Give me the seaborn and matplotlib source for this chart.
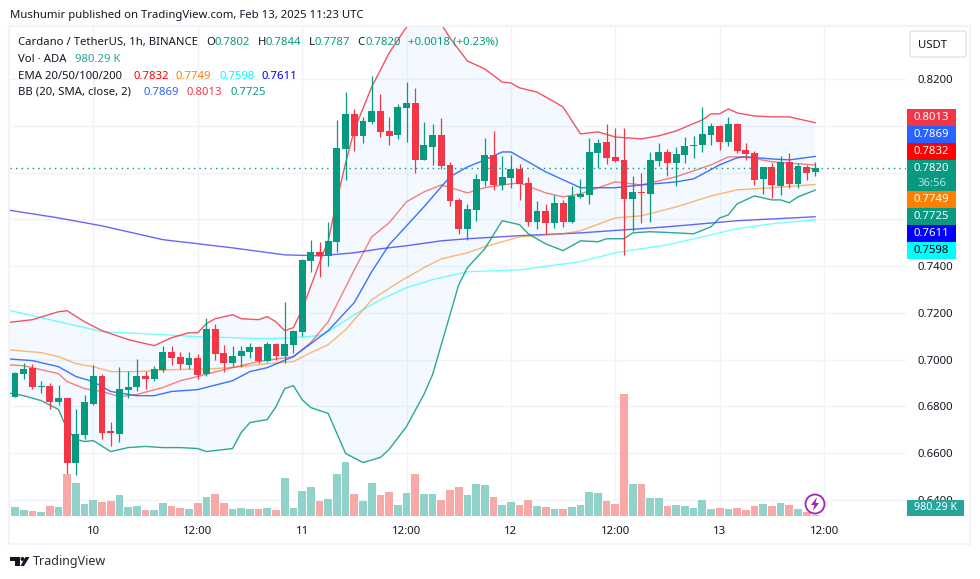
import numpy as np
import pandas as pd
import seaborn as sns
import matplotlib.pyplot as plt
from matplotlib.patches import Circle, Polygon, Rectangle, FancyBboxPatch

# hourly candles, bar 0 = Feb 10 00:00
bar_index = list(range(-9, 84))
candle_open = [.6842, .6940, .6965, .6881, .6889, .6817, .6834, .6560, .6680,
               .6812, .6932, .6693, .6684, .6872, .6881, .6932, .6919, .6957, .7034,
               .7013, .6979, .7009, .6940, .7132, .7030, .6987, .7017, .7034, .7056,
               .6996, .7068, .7017, .7064, .7120, .7423, .7461, .7444, .7504, .7901,
               .8051, .7957, .8016, .8063, .7978, .7961, .8076, .8098, .7854, .7910,
               .7961, .7833, .7683, .7559, .7641, .7764, .7875, .7747, .7777, .7816,
               .7756, .7589, .7636, .7585, .7671, .7589, .7696, .7705, .7884, .7931,
               .7867, .7854, .7688, .7717, .7709, .7850, .7888, .7841, .7875, .7914,
               .7918, .7961, .7999, .7931, .8008, .7897, .7884, .7773, .7824, .7743,
               .7846, .7752, .7824, .7802]
candle_high = [.6948, .6987, .6983, .6910, .6902, .6893, .6838, .6791, .6851,
               .6979, .6940, .6735, .6970, .6953, .7004, .6953, .6974, .7060, .7060,
               .7034, .7034, .7026, .7179, .7154, .7064, .7060, .7060, .7073, .7060,
               .7077, .7070, .7248, .7128, .7430, .7513, .7504, .7589, .8025, .8144,
               .8072, .8038, .8213, .8136, .8038, .8093, .8187, .8162, .8016, .8008,
               .8033, .7846, .7692, .7666, .7794, .7948, .7978, .7871, .7875, .7837,
               .7782, .7679, .7666, .7705, .7683, .7743, .7773, .7948, .7944, .8008,
               .7991, .7991, .7786, .7799, .7888, .7927, .7901, .7910, .7952, .7957,
               .8080, .8012, .8004, .8038, .8012, .7927, .7893, .7824, .7841, .7871,
               .7884, .7841, .7833, .7844]
candle_low = [.6842, .6919, .6876, .6859, .6787, .6808, .6509, .6505, .6659,
              .6808, .6659, .6633, .6650, .6838, .6864, .6876, .6910, .6948, .6979,
              .6962, .6962, .6919, .6932, .7000, .6948, .6974, .6970, .7009, .6987,
              .6992, .7000, .6987, .7030, .7103, .7376, .7355, .7402, .7461, .7769,
              .7893, .7927, .8008, .7952, .7918, .7944, .7931, .7799, .7854, .7833,
              .7816, .7658, .7538, .7513, .7594, .7743, .7726, .7726, .7735, .7683,
              .7572, .7559, .7538, .7564, .7568, .7585, .7692, .7666, .7820, .7837,
              .7846, .7448, .7551, .7585, .7589, .7829, .7786, .7743, .7841, .7863,
              .7888, .7918, .7897, .7914, .7884, .7854, .7747, .7709, .7692, .7705,
              .7735, .7735, .7769, .7787]
candle_close = [.6945, .6962, .6881, .6889, .6817, .6834, .6560, .6684, .6817,
                .6932, .6688, .6688, .6876, .6885, .6932, .6919, .6962, .7034, .7009,
                .6983, .7009, .6936, .7132, .7026, .6987, .7017, .7039, .7056, .6996,
                .7068, .7017, .7068, .7124, .7427, .7461, .7444, .7508, .7905, .8051,
                .7957, .8021, .8063, .7974, .7957, .8080, .8098, .7854, .7918, .7961,
                .7829, .7679, .7559, .7645, .7773, .7875, .7747, .7782, .7816, .7752,
                .7589, .7636, .7585, .7671, .7589, .7700, .7709, .7888, .7927, .7863,
                .7850, .7688, .7717, .7713, .7854, .7888, .7841, .7880, .7914, .7918,
                .7965, .7999, .7931, .8008, .7893, .7880, .7769, .7824, .7747, .7846,
                .7752, .7829, .7799, .7820]
# million ADA
volume = [6.8, 4.5, 3.8, 3, 7.5, 6.8, 31.5, 24.8, 9,
          12, 10.5, 11.3, 15.8, 6.8, 7.5, 4.5, 4.5, 9.8, 7.5,
          6, 5.3, 9.8, 14.3, 16.5, 9.8, 5.3, 6, 5.3, 5.3,
          6, 4.5, 28.5, 6, 18.8, 21.8, 11.3, 12.8, 31.5, 40.5,
          16.5, 11.3, 24.8, 15.8, 18, 8.3, 17.3, 31.5, 16.5, 16.5,
          12, 19.5, 21.8, 15.8, 24, 23.3, 14.3, 8.3, 10.5, 8.3,
          12, 7.5, 6.8, 5.3, 5.3, 6.8, 8.3, 18, 17.3, 11.3,
          9, 91.5, 24, 24, 13.5, 13.5, 7.5, 8.3, 7.5, 6,
          12, 5.3, 6, 5.3, 6, 4.5, 7.5, 9, 7.5, 9.8,
          8.3, 5.3, 3, 0.98]

# indicators, read at the bars where the line bends
bb_upper_bars = [-10, -7, -4, -3, -1, 1, 4, 7, 9, 11, 12, 13, 14, 16, 17, 19, 20, 21, 22, 23, 24, 26, 27, 28, 29, 30,
                 32, 33, 34, 36, 38, 39, 40, 41, 43, 45, 47, 48, 49, 51, 53, 54, 56, 58, 60, 63, 65, 67, 70, 71, 72,
                 73, 74, 76, 78, 80, 83]
bb_upper = [.7158, .7171, .7205, .7209, .7162, .7124, .7086, .7060, .7094, .7115, .7115, .7154, .7175, .7192, .7175,
            .7171, .7184, .7162, .7124, .7137, .7214, .7414, .7508, .7683, .7841, .7982, .8166, .8238, .8311, .8422,
            .8478, .8478, .8435, .8375, .8277, .8243, .8187, .8183, .8162, .8144, .8102, .8080, .7965, .7974, .7952,
            .7944, .7957, .7978, .8025, .8051, .8051, .8072, .8055, .8042, .8038, .8038, .8013]
bb_lower_bars = [-10, -8, -6, -4, -3, -2, -1, 0, 2, 4, 6, 8, 10, 12, 13, 16, 17, 18, 20, 21, 22, 23, 24, 25, 27, 29,
                 31, 33, 34, 36, 38, 39, 40, 41, 42, 43, 45, 47, 49, 50, 52, 54, 56, 58, 59, 61, 62, 64, 67, 69, 71,
                 72, 73, 74, 76, 78, 79, 80, 81, 83]
bb_lower = [.6859, .6846, .6825, .6787, .6701, .6659, .6650, .6654, .6607, .6624, .6629, .6624, .6624, .6620, .6607,
            .6620, .6688, .6731, .6744, .6799, .6876, .6889, .6829, .6795, .6770, .6599, .6560, .6582, .6616, .6714,
            .6851, .6936, .7064, .7192, .7320, .7393, .7474, .7594, .7577, .7538, .7495, .7466, .7508, .7504, .7517,
            .7517, .7542, .7547, .7542, .7538, .7568, .7606, .7619, .7666, .7700, .7683, .7683, .7671, .7696, .7725]
bb_basis_bars = [-10, -7, -4, -2, 0, 2, 5, 7, 9, 12, 16, 18, 20, 23, 27, 30, 32, 34, 36, 38, 41, 43, 45, 47, 48, 52,
                 56, 60, 63, 67, 69, 72, 74, 75, 78, 80, 83]
bb_basis = [.7004, .6996, .6970, .6928, .6906, .6864, .6846, .6846, .6864, .6872, .6910, .6949, .6966, .7013, .7124,
            .7244, .7376, .7491, .7572, .7653, .7782, .7824, .7854, .7888, .7888, .7803, .7735, .7735, .7747, .7760,
            .7773, .7833, .7863, .7867, .7858, .7854, .7869]
ema20_bars = [-10, -8, -4, -3, -1, 1, 3, 5, 8, 10, 12, 15, 19, 23, 25, 27, 30, 32, 34, 36, 38, 40, 43, 45, 47, 49, 52,
              54, 56, 60, 63, 67, 71, 73, 75, 78, 83]
ema20 = [.6979, .6974, .6940, .6906, .6876, .6864, .6842, .6851, .6881, .6910, .6928, .6957, .6992, .7013, .7073,
         .7162, .7384, .7525, .7585, .7675, .7717, .7747, .7713, .7735, .7747, .7756, .7713, .7696, .7709, .7760,
         .7747, .7782, .7833, .7867, .7867, .7846, .7832]
ema50_bars = [-10, -6, -4, -2, 0, 2, 5, 9, 14, 17, 20, 23, 25, 27, 29, 32, 35, 38, 40, 43, 45, 47, 49, 54, 56, 60, 63,
              67, 71, 74, 78, 83]
ema50 = [.7043, .7030, .7013, .6983, .6970, .6949, .6949, .6957, .6962, .6970, .6983, .6992, .7030, .7064, .7128,
         .7256, .7329, .7393, .7431, .7457, .7483, .7504, .7525, .7538, .7551, .7606, .7615, .7653, .7700, .7726,
         .7735, .7749]
ema100_bars = [-10, -5, 1, 8, 12, 16, 20, 23, 26, 27, 30, 33, 36, 39, 43, 49, 56, 60, 66, 70, 74, 78, 83]
ema100 = [.7214, .7171, .7120, .7107, .7098, .7094, .7090, .7094, .7103, .7120, .7192, .7256, .7308, .7342, .7376,
          .7384, .7419, .7457, .7491, .7525, .7560, .7581, .7598]
ema200_bars = [-10, -4, 1, 8, 16, 22, 26, 30, 33, 36, 40, 43, 49, 56, 66, 74, 83]
ema200 = [.7641, .7606, .7572, .7513, .7478, .7448, .7444, .7457, .7474, .7487, .7508, .7517, .7530, .7542, .7568,
          .7594, .7611]

price_ticks = [.64, .66, .68, .70, .72, .74, .76, .78, .80, .82]
price_labels = ["0.6400", "0.6600", "0.6800", "0.7000", "0.7200", "0.7400", "", "", "", "0.8200"]
time_ticks = [0, 12, 24, 36, 48, 60, 72, 84]
time_labels = ["10", "12:00", "11", "12:00", "12", "12:00", "13", "12:00"]

tag_labels = ["0.8013", "0.7869", "0.7832", "0.7749", "0.7725", "0.7611", "0.7598"]

GREEN = "#089981"
RED = "#f23645"
TEXT = "#131722"
GRID = "#f0f3fa"

W, H = 980, 579


def fx(px):
    return px / W


def fy(py):
    return 1 - py / H


def put(px, py, s, color=TEXT, size=8.15, **kw):
    kw.setdefault("va", "center")
    fig.text(fx(px), fy(py), s, color=color, fontsize=size, zorder=20, **kw)


sns.set_style("white")
plt.rcParams["font.family"] = ["Noto Sans", "DejaVu Sans"]

fig = plt.figure(figsize=(W / 100, H / 100), dpi=100)
ax = fig.add_axes([fx(10), fy(516), 896 / W, 489 / H])

df = pd.DataFrame({"bar": bar_index, "open": candle_open, "high": candle_high, "low": candle_low,
                   "close": candle_close, "volume": volume})
up = df["close"] >= df["open"]
colors = np.where(up, GREEN, RED)
vol_colors = np.where(up, "#91d3cb", "#f7a9a7")

# bollinger cloud
ax.fill(bb_upper_bars + bb_lower_bars[::-1], bb_upper + bb_lower[::-1], color="#2196f3", alpha=0.05, lw=0, zorder=1)

# lines
lines = [(ema200_bars, ema200, "#0000ff", 0.6), (ema100_bars, ema100, "#00ffff", 0.55),
         (ema50_bars, ema50, "#ff8000", 0.55), (ema20_bars, ema20, "#ff0000", 0.5),
         (bb_basis_bars, bb_basis, "#2962ff", 0.9), (bb_upper_bars, bb_upper, RED, 0.85),
         (bb_lower_bars, bb_lower, GREEN, 0.85)]
for xs, ys, col, al in lines:
    sns.lineplot(x=xs, y=ys, color=col, alpha=al, lw=1.0, estimator=None, sort=False, ax=ax, zorder=2)

# candles
ax.vlines(df["bar"], df["low"], df["high"], colors=colors, lw=0.9, zorder=3)
ax.bar(df["bar"], (df["close"] - df["open"]).abs().clip(lower=0.0003), bottom=df[["open", "close"]].min(axis=1),
       width=0.8, color=colors, lw=0, zorder=4)

# last price
ax.axhline(candle_close[-1], color=GREEN, ls=(0, (1, 3)), lw=1, zorder=5)

x_left = (10 - 93.3) / 8.7
x_right = (906 - 93.3) / 8.7
ax.set_xlim(x_left, x_right)
ax.set_ylim(.64 - 16 / 2340, .82 + 52 / 2340)
ax.set_xticks(time_ticks, time_labels)
ax.set_yticks(price_ticks, price_labels)
ax.yaxis.tick_right()
ax.tick_params(length=0, labelsize=8.2, labelcolor=TEXT)
ax.tick_params(axis="y", pad=8)
ax.tick_params(axis="x", pad=7)
ax.grid(True, color=GRID, lw=1)
ax.set_axisbelow(True)
sns.despine(ax=ax, left=True, bottom=True, right=True, top=True)

# volume sits in its own transparent axes along the pane bottom
ax_vol = fig.add_axes(ax.get_position(), zorder=3)
ax_vol.patch.set_alpha(0)
sns.barplot(data=df, x="bar", y="volume", native_scale=True, width=0.88, color="#91d3cb", saturation=1, ax=ax_vol)
for patch, col in zip(ax_vol.patches, vol_colors):
    patch.set_facecolor(col)
    patch.set_linewidth(0)
ax_vol.set_xlim(x_left, x_right)
ax_vol.set_ylim(0, 489 * 0.75)
ax_vol.axis("off")

# frame round the chart
fig.add_artist(Rectangle((fx(9), fy(544)), 961 / W, 518 / H, transform=fig.transFigure, fill=False, ec=GRID, lw=1.5))

# price tags on the scale
tag_rows = [(109, 126, RED), (126, 143, "#2962ff"), (143, 160, "#ff0000"), (191, 208, "#ff8000"), (208, 225, GREEN),
            (225, 242, "#0000ff"), (242, 259, "#00ffff")]
for (top, bottom, col), lab in zip(tag_rows, tag_labels):
    fig.add_artist(Rectangle((fx(907), fy(bottom)), 49 / W, (bottom - top) / H, transform=fig.transFigure, color=col,
                             lw=0, zorder=15))
    put(931.5, (top + bottom) / 2, lab, color="black" if col == "#00ffff" else "white", weight="bold", ha="center")
fig.add_artist(Rectangle((fx(907), fy(191)), 49 / W, 31 / H, transform=fig.transFigure, color=GREEN, lw=0, zorder=15))
put(931.5, 168.5, "0.7820", color="white", weight="bold", ha="center")
put(931.5, 183, "36:56", color="#b9e3da", ha="center")
fig.add_artist(Rectangle((fx(907), fy(516)), 57 / W, 16 / H, transform=fig.transFigure, color="#26a69a", lw=0, zorder=15))
put(935.5, 508, "980.29 K", color="white", weight="bold", ha="center", size=7.8)

# currency button
fig.add_artist(FancyBboxPatch((fx(910), fy(57)), 56 / W, 26 / H, boxstyle="round,pad=0,rounding_size=0.004",
                              transform=fig.transFigure, fc="white", ec="#e0e3eb", lw=1, zorder=15))
put(932, 45, "USDT", ha="center")

# header text
put(10, 15.5, "Mushumir published on TradingView.com, Feb 13, 2025 11:23 UTC")
put(18, 42.5, "Cardano / TetherUS, 1h, BINANCE")
for px, s, c in [(206, "O", TEXT), (214, "0.7802", GREEN), (258, "H", TEXT), (265, "0.7844", GREEN), (309, "L", TEXT),
                 (314, "0.7787", GREEN), (357, "C", TEXT), (365, "0.7820", GREEN), (408, "+0.0018 (+0.23%)", GREEN)]:
    put(px, 42.5, s, color=c)
put(18, 59.5, "Vol · ADA")
put(75, 59.5, "980.29 K", color="#26a69a")
put(18, 76.5, "EMA 20/50/100/200")
for px, s, c in [(133, "0.7832", "#ff0000"), (176, "0.7749", "#ff8000"), (219, "0.7598", "#00ffff"),
                 (262, "0.7611", "#0000ff")]:
    put(px, 76.5, s, color=c)
put(18, 92.5, "BB (20, SMA, close, 2)")
for px, s, c in [(143, "0.7869", "#2962ff"), (186, "0.8013", RED), (230, "0.7725", GREEN)]:
    put(px, 92.5, s, color=c)

# lightning badge
fig.add_artist(Circle((815, H - 504), 9.5, transform=None, fc="white", ec="#9c27b0", lw=1.3, zorder=16))
bolt = [(817, 497), (811, 505), (814.5, 505), (813, 511), (819, 503), (815.5, 503)]
fig.add_artist(Polygon([(px, H - py) for px, py in bolt], closed=True, transform=None, fc="#9c27b0", lw=0, zorder=17))

# logo
logo_t = [(10, 557), (20, 557), (20, 566), (15, 566), (15, 561), (10, 561)]
logo_v = [(25.5, 557), (29.5, 557), (24, 566), (20.5, 566)]
for shape in (logo_t, logo_v):
    fig.add_artist(Polygon([(px, H - py) for px, py in shape], closed=True, transform=None, fc=TEXT, lw=0))
fig.add_artist(Circle((22.5, H - 559), 2, transform=None, fc=TEXT, lw=0))
put(33, 561, "TradingView", size=9.0, color="#2a2e39")

fig.savefig("out.png", dpi=100)
